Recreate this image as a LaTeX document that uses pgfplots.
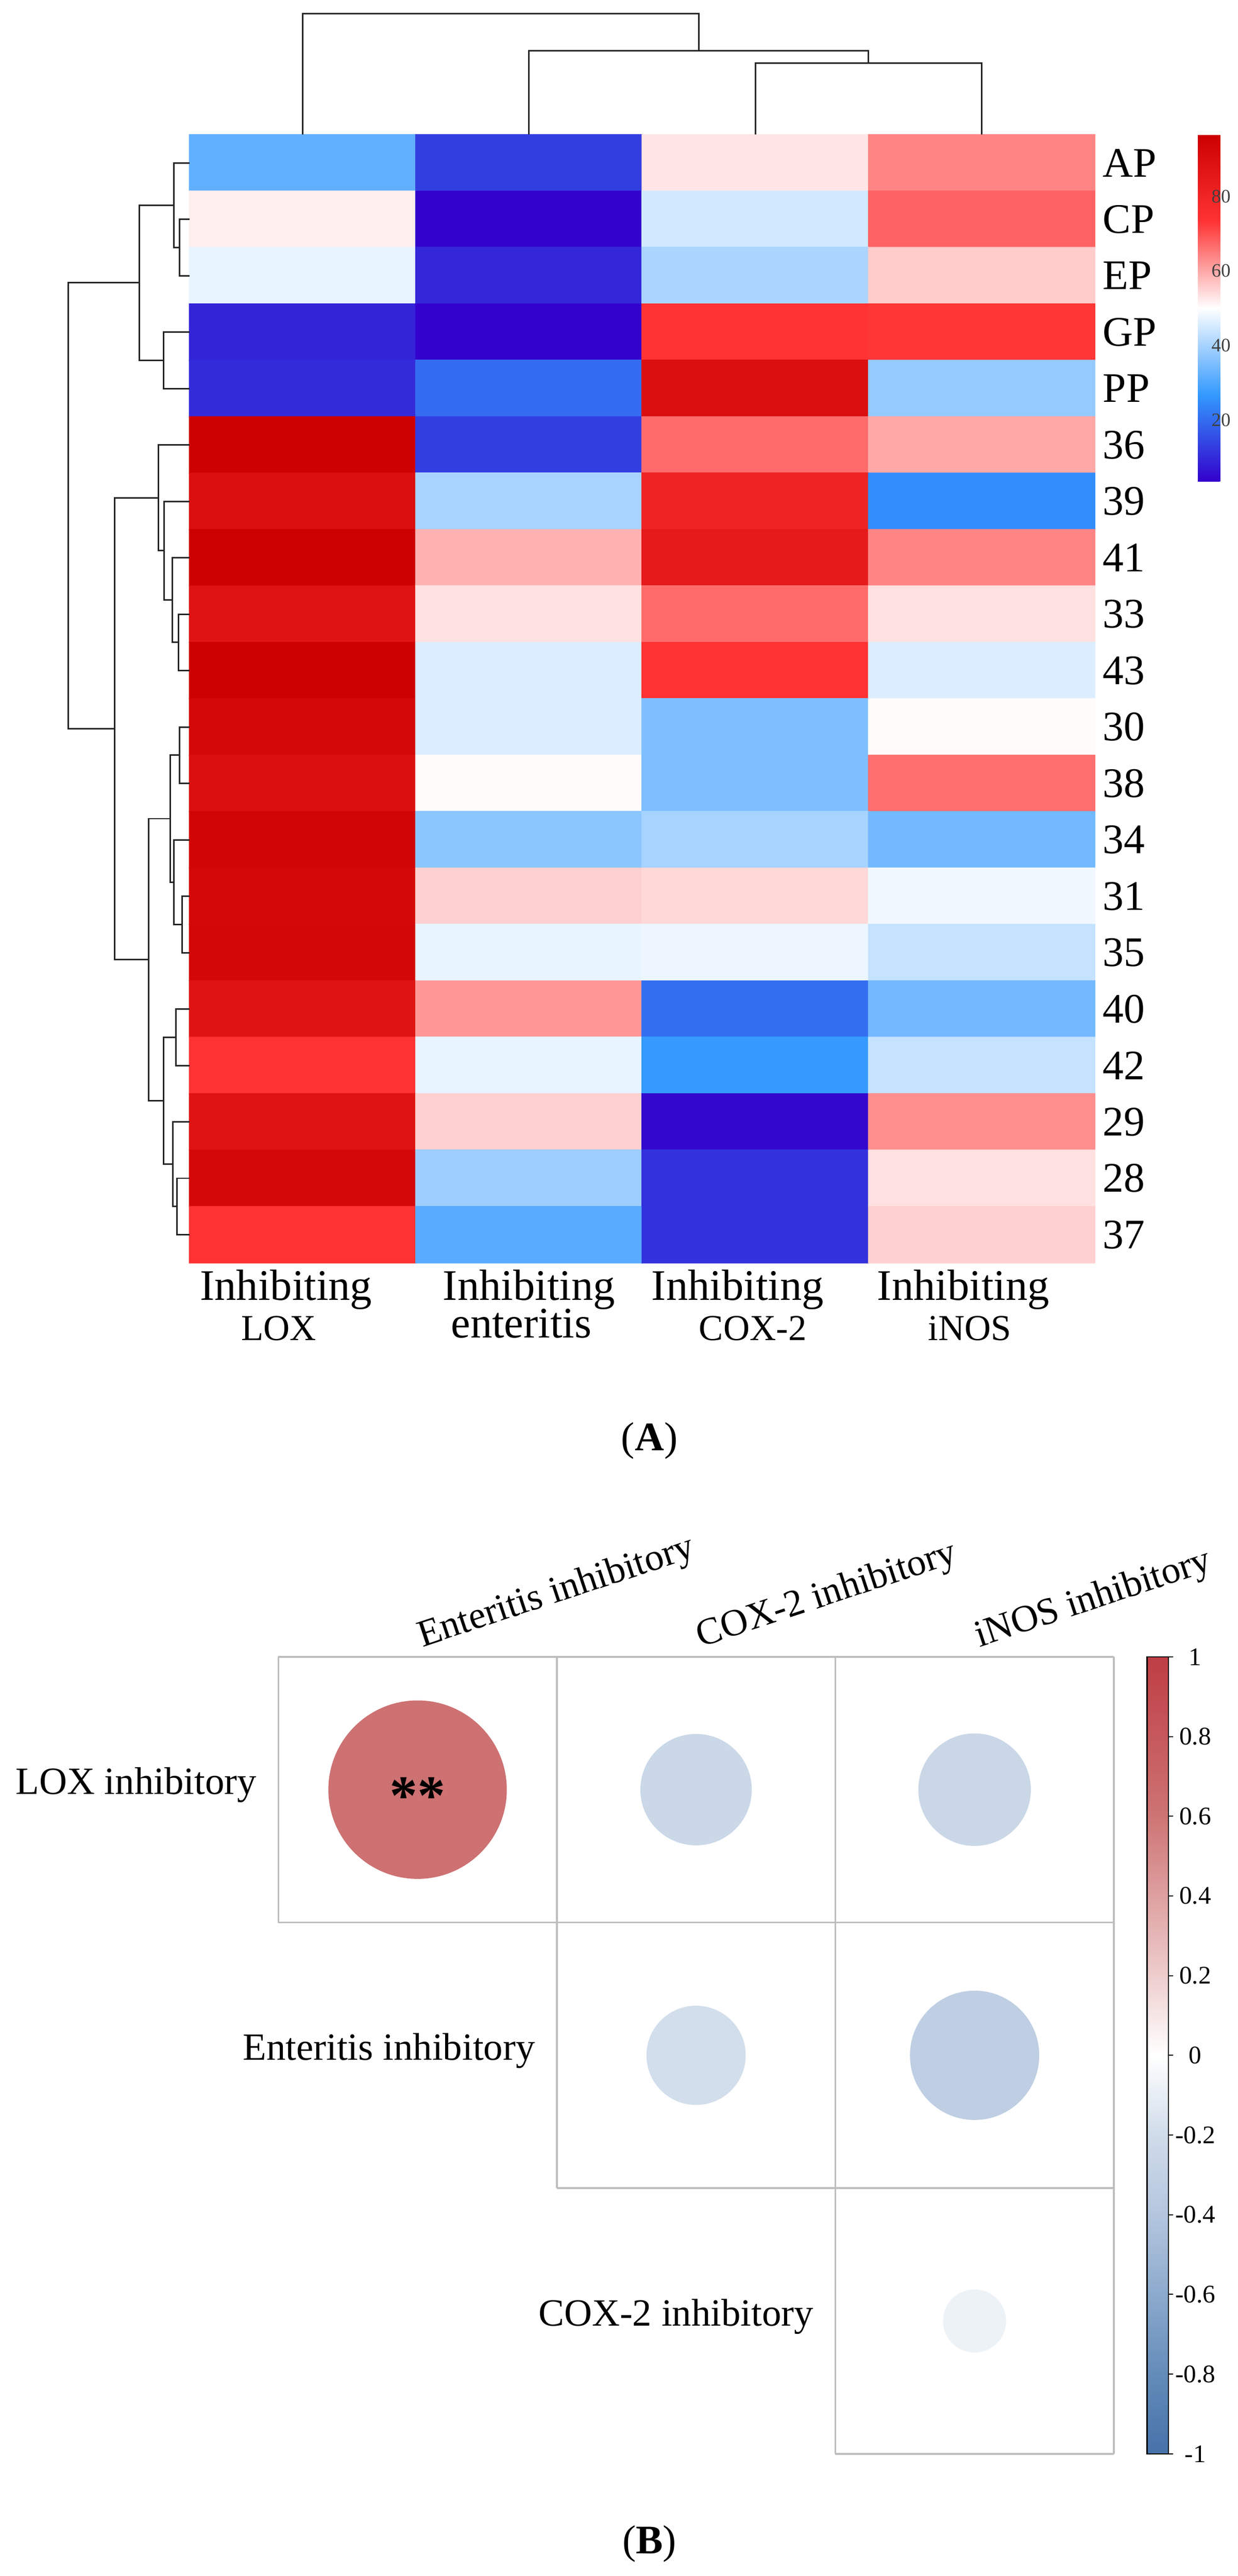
\documentclass[border=0pt]{standalone}
\usepackage{pgfplots}
\pgfplotsset{compat=1.18}
\usepackage{fontspec}
\setmainfont{Liberation Serif}
\newcommand\fs[1]{\fontsize{#1}{#1}\selectfont}
\definecolor{gridc}{RGB}{190,190,190}
\pgfplotsset{
  /pgf/number format/assume math mode=true,
  colormap={heat}{rgb255(0)=(51,0,204) rgb255(1)=(51,153,255) rgb255(2)=(255,255,255)
    rgb255(3)=(255,51,51) rgb255(4)=(204,0,0)},
  colormap={corr}{rgb255(0)=(70,114,170) rgb255(2)=(100,140,185) rgb255(4)=(140,170,205)
    rgb255(6)=(180,198,222) rgb255(8)=(208,220,234) rgb255(10)=(255,255,255)
    rgb255(12)=(238,205,205) rgb255(14)=(222,160,160) rgb255(16)=(206,116,116)
    rgb255(18)=(198,88,92) rgb255(20)=(190,62,68)},
  dend/.style={black!85, line width=0.6pt, no marks},
  cell/.style={gridc, line width=0.7pt, no marks},
}
\begin{document}
\begin{tikzpicture}
\useasboundingbox (0,0) rectangle (488.2pt,1016.2pt);

% (A) heatmap with dendrograms
\begin{axis}[
  at={(74.72pt,963.08pt)}, anchor=north west,
  width=357.2pt, height=445.08pt, scale only axis,
  xmin=-0.5, xmax=3.5, ymin=-0.5, ymax=19.5, y dir=reverse,
  axis line style={draw=none}, major tick length=0pt,
  xtick=\empty, ytick={0,...,19},
  yticklabels={AP,CP,EP,GP,PP,36,39,41,33,43,30,38,34,31,35,40,42,29,28,37},
  yticklabel pos=right,
  yticklabel style={anchor=west, inner sep=0pt, xshift=3pt, font=\fs{16.6}},
  clip=false,
  colormap name=heat,
  point meta min=3.5, point meta max=96.6,
  colorbar,
  colorbar style={at={(parent axis.north east)}, anchor=north west,
    xshift=32.1pt, width=8.8pt, height=136.8pt, scale only axis,
    ytick={20,40,60,80}, major tick length=0pt, axis line style={draw=none},
    yticklabel style={font=\fs{7.5}, text=black!75, inner sep=0pt, xshift=-3.6pt}},
]
\addplot[matrix plot*, mesh/cols=4, point meta=explicit] table[meta=v] {
x y v
0 0 32
1 0 13
2 0 53
3 0 64
0 1 52
1 1 4
2 1 45
3 1 68
0 2 47.5
1 2 9.5
2 2 40.5
3 2 56
0 3 9
1 3 4
2 3 74
3 3 73
0 4 10
1 4 20
2 4 90
3 4 38
0 5 96
1 5 13
2 5 67
3 5 60
0 6 90
1 6 40
2 6 80
3 6 25
0 7 96
1 7 59
2 7 85
3 7 64
0 8 88
1 8 53.5
2 8 67
3 8 53.5
0 9 96
1 9 46
2 9 74
3 9 46
0 10 93
1 10 46
2 10 35.5
3 10 50.5
0 11 90
1 11 50.5
2 11 35.5
3 11 66.5
0 12 94.5
1 12 37
2 12 40
3 12 34
0 13 93
1 13 55.5
2 13 54.5
3 13 48.5
0 14 93.5
1 14 47.5
2 14 48
3 14 43.5
0 15 88
1 15 62
2 15 20.5
3 15 34
0 16 74
1 16 47.5
2 16 27
3 16 43.5
0 17 88
1 17 55.5
2 17 4.5
3 17 63
0 18 93
1 18 39
2 18 11
3 18 53.5
0 19 74
1 19 31
2 19 11
3 19 55.5
};
% column dendrogram
\addplot[dend] coordinates {(2,-0.5) (2,-1.764) (3,-1.764) (3,-0.5)};
\addplot[dend] coordinates {(1,-0.5) (1,-1.988) (2.5,-1.988) (2.5,-1.764)};
\addplot[dend] coordinates {(0,-0.5) (0,-2.644) (1.75,-2.644) (1.75,-1.988)};
% row dendrogram
\addplot[dend] coordinates {(-0.5,1) (-0.5439,1) (-0.5439,2) (-0.5,2)};
\addplot[dend] coordinates {(-0.5,0) (-0.5692,0) (-0.5692,1.5) (-0.5439,1.5)};
\addplot[dend] coordinates {(-0.5,3) (-0.6133,3) (-0.6133,4) (-0.5,4)};
\addplot[dend] coordinates {(-0.5692,0.75) (-0.7208,0.75) (-0.7208,3.5) (-0.6133,3.5)};
\addplot[dend] coordinates {(-0.5,8) (-0.5477,8) (-0.5477,9) (-0.5,9)};
\addplot[dend] coordinates {(-0.5,7) (-0.5752,7) (-0.5752,8.5) (-0.5477,8.5)};
\addplot[dend] coordinates {(-0.5,6) (-0.6111,6) (-0.6111,7.75) (-0.5752,7.75)};
\addplot[dend] coordinates {(-0.5,5) (-0.6373,5) (-0.6373,6.875) (-0.6111,6.875)};
\addplot[dend] coordinates {(-0.5,10) (-0.5439,10) (-0.5439,11) (-0.5,11)};
\addplot[dend] coordinates {(-0.5,13) (-0.5327,13) (-0.5327,14) (-0.5,14)};
\addplot[dend] coordinates {(-0.5,12) (-0.5692,12) (-0.5692,13.5) (-0.5327,13.5)};
\addplot[dend] coordinates {(-0.5439,10.5) (-0.5842,10.5) (-0.5842,12.75) (-0.5692,12.75)};
\addplot[dend] coordinates {(-0.5,15) (-0.5602,15) (-0.5602,16) (-0.5,16)};
\addplot[dend] coordinates {(-0.5,18) (-0.5544,18) (-0.5544,19) (-0.5,19)};
\addplot[dend] coordinates {(-0.5,17) (-0.5737,17) (-0.5737,18.5) (-0.5544,18.5)};
\addplot[dend] coordinates {(-0.5602,15.5) (-0.6140,15.5) (-0.6140,17.75) (-0.5737,17.75)};
\addplot[dend] coordinates {(-0.5842,11.625) (-0.6805,11.625) (-0.6805,16.625) (-0.6140,16.625)};
\addplot[dend] coordinates {(-0.6373,5.9375) (-0.8306,5.9375) (-0.8306,14.125) (-0.6805,14.125)};
\addplot[dend] coordinates {(-0.7208,2.125) (-1.0344,2.125) (-1.0344,10.03125) (-0.8306,10.03125)};
% column labels
\node[anchor=base, font=\fs{17.2}] at (axis cs:-0.073,20.156) {Inhibiting};
\node[anchor=base, font=\fs{14.4}] at (axis cs:-0.105,20.875) {LOX};
\node[anchor=base, font=\fs{17.2}] at (axis cs:1.0,20.156) {Inhibiting};
\node[anchor=base, font=\fs{17.2}] at (axis cs:0.966,20.83) {enteritis};
\node[anchor=base, font=\fs{17.2}] at (axis cs:1.922,20.156) {Inhibiting};
\node[anchor=base, font=\fs{14.4}] at (axis cs:1.989,20.875) {COX-2};
\node[anchor=base, font=\fs{17.2}] at (axis cs:2.919,20.156) {Inhibiting};
\node[anchor=base, font=\fs{14.4}] at (axis cs:2.948,20.875) {iNOS};
\end{axis}

\node[anchor=base, font=\fs{16}] at (256.2pt,444pt) {(\textbf{A})};

% (B) correlation plot
\begin{axis}[
  at={(109.8pt,362.6pt)}, anchor=north west,
  width=329.6pt, height=314.4pt, scale only axis,
  xmin=-0.5, xmax=2.5, ymin=-0.5, ymax=2.5, y dir=reverse,
  axis line style={draw=none}, xtick=\empty, ytick=\empty,
  clip=false,
  colormap name=corr,
  point meta min=-1, point meta max=1,
  colorbar,
  colorbar style={at={(parent axis.north east)}, anchor=north west,
    xshift=4.6pt, width=8.4pt, height=314.4pt, scale only axis,
    ytick={-1,-0.8,-0.6,-0.4,-0.2,0,0.2,0.4,0.6,0.8,1},
    yticklabels={-1,-0.8,-0.6,-0.4,-0.2,0,0.2,0.4,0.6,0.8,1},
    ytick pos=right, tick align=outside, major tick length=1.8pt,
    tick style={black, line width=0.4pt},
    axis line style={black, line width=0.5pt},
    yticklabel style={anchor=center, font=\fs{10}, xshift=8.8pt}},
]
\addplot[cell] coordinates {(-0.5,-0.5) (2.5,-0.5)};
\addplot[cell] coordinates {(-0.5,0.5) (2.5,0.5)};
\addplot[cell] coordinates {(0.5,1.5) (2.5,1.5)};
\addplot[cell] coordinates {(1.5,2.5) (2.5,2.5)};
\addplot[cell] coordinates {(-0.5,-0.5) (-0.5,0.5)};
\addplot[cell] coordinates {(0.5,-0.5) (0.5,1.5)};
\addplot[cell] coordinates {(1.5,-0.5) (1.5,2.5)};
\addplot[cell] coordinates {(2.5,-0.5) (2.5,2.5)};
\addplot[scatter, only marks, mark=*, point meta=explicit,
  scatter/use mapped color={draw=mapped color, fill=mapped color},
  visualization depends on={44.45*sqrt(abs(\thisrow{r})) \as \msz},
  scatter/@pre marker code/.append style={/tikz/mark size=\msz pt}]
  table[meta=r] {
x y r
0 0 0.62
1 0 -0.24
2 0 -0.245
1 1 -0.19
2 1 -0.324
2 2 -0.076
};
\node[anchor=east, font=\fs{15.2}, inner sep=0pt] at (axis cs:-0.5765,-0.017) {LOX inhibitory};
\node[anchor=east, font=\fs{15.2}, inner sep=0pt] at (axis cs:0.4235,0.983) {Enteritis inhibitory};
\node[anchor=east, font=\fs{15.2}, inner sep=0pt] at (axis cs:1.4235,1.983) {COX-2 inhibitory};
\node[anchor=base west, rotate=18.3, font=\fs{15}, inner sep=0pt] at (axis cs:0.016,-0.536) {Enteritis inhibitory};
\node[anchor=base west, rotate=18.3, font=\fs{15}, inner sep=0pt] at (axis cs:1.016,-0.536) {COX-2 inhibitory};
\node[anchor=base west, rotate=18.3, font=\fs{15}, inner sep=0pt] at (axis cs:2.016,-0.536) {iNOS inhibitory};
\end{axis}

% significance mark, on top of the circle
\node[font=\fs{22}\bfseries] at (164.7pt,307.8pt) {**};
\node[anchor=base, font=\fs{16}] at (256.2pt,8.8pt) {(\textbf{B})};
\end{tikzpicture}
\end{document}
